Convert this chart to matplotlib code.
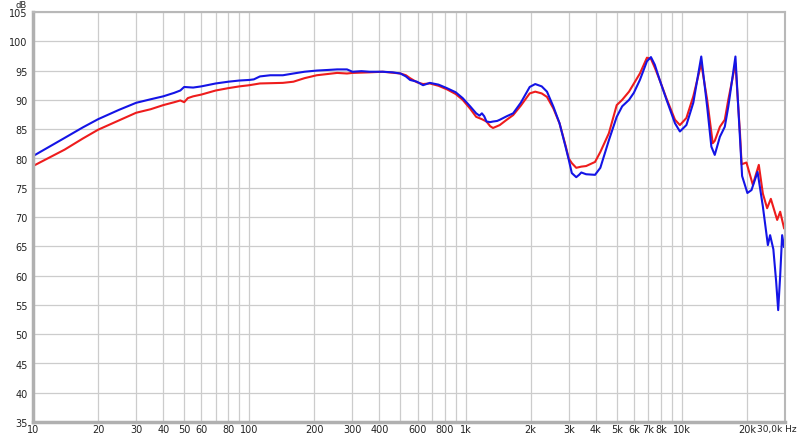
import matplotlib
matplotlib.use('Agg')
import matplotlib.pyplot as plt
from matplotlib.ticker import FixedLocator, NullFormatter

blue_freq = [10, 14, 17, 20, 25, 30, 35, 40, 45, 48, 50, 55, 60, 70, 80, 90, 100, 105,
             112, 125, 143, 160, 180, 205, 230, 255, 283, 300, 330, 360, 414, 460, 500,
             530, 554, 596, 636, 684, 750, 820, 900, 970, 1050, 1120, 1160, 1190, 1220,
             1250, 1300, 1340, 1400, 1440, 1550, 1660, 1800, 1980, 2100, 2250, 2380, 2550,
             2720, 2900, 3000, 3100, 3250, 3350, 3430, 3610, 3970, 4200, 4600, 5000, 5300,
             5700, 6000, 6400, 6900, 7200, 7500, 7900, 8500, 9300, 9800, 10500, 11300,
             12300, 13100, 13700, 14200, 15000, 15800, 16400, 17700, 18600, 19000, 20100,
             21000, 22400, 23700, 25000, 25600, 26500, 27300, 27900, 28500, 29100, 29700]
blue_db = [80.4, 83.5, 85.3, 86.7, 88.3, 89.5, 90.1, 90.6, 91.2, 91.6, 92.2, 92.1, 92.3,
           92.8, 93.1, 93.3, 93.4, 93.5, 94.0, 94.2, 94.2, 94.5, 94.8, 95.0, 95.1, 95.2,
           95.2, 94.8, 94.9, 94.8, 94.8, 94.7, 94.5, 94.0, 93.4, 93.1, 92.5, 92.9, 92.6,
           92.0, 91.3, 90.3, 88.9, 87.7, 87.3, 87.7, 87.2, 86.3, 86.2, 86.3, 86.4, 86.6,
           87.2, 87.7, 89.5, 92.2, 92.7, 92.3, 91.4, 88.8, 86.0, 82.0, 79.8, 77.5, 76.8,
           77.2, 77.6, 77.3, 77.2, 78.4, 83.1, 87.1, 88.9, 90.0, 91.2, 93.4, 96.6, 97.3,
           96.0, 93.4, 90.0, 86.0, 84.6, 85.7, 89.5, 97.4, 88.8, 82.0, 80.6, 83.7, 85.4,
           88.8, 97.4, 83.1, 77.0, 74.1, 74.6, 77.7, 71.8, 65.2, 66.9, 64.5, 59.0, 54.1,
           60.0, 66.9, 64.9]

red_freq = [10, 14, 17, 20, 25, 30, 35, 40, 45, 48, 50, 52, 55, 60, 70, 80, 90, 100, 112,
            143, 160, 180, 205, 255, 283, 300, 360, 414, 500, 530, 554, 596, 636, 684, 750,
            820, 900, 970, 1050, 1120, 1190, 1250, 1300, 1340, 1400, 1440, 1550, 1660, 1800,
            1980, 2100, 2250, 2380, 2550, 2720, 2900, 3000, 3100, 3250, 3430, 3610, 3970,
            4200, 4600, 5000, 5300, 5700, 6400, 6900, 7200, 7500, 7900, 8500, 9300, 9800,
            10500, 11300, 12300, 13100, 13900, 14200, 15000, 15800, 16400, 17700, 18600,
            18900, 19900, 21300, 22700, 23700, 24800, 25800, 27600, 28500, 29700]
red_db = [78.7, 81.5, 83.4, 84.9, 86.5, 87.8, 88.4, 89.1, 89.6, 89.9, 89.6, 90.3, 90.6,
          90.9, 91.6, 92.0, 92.3, 92.5, 92.8, 92.9, 93.1, 93.7, 94.2, 94.6, 94.5, 94.6,
          94.7, 94.8, 94.5, 94.2, 93.7, 93.0, 92.7, 92.8, 92.4, 91.8, 91.0, 90.0, 88.5,
          87.1, 86.7, 86.3, 85.5, 85.2, 85.5, 85.7, 86.6, 87.4, 89.0, 91.1, 91.4, 91.1,
          90.5, 88.5, 86.0, 82.2, 80.0, 79.2, 78.4, 78.6, 78.7, 79.4, 81.1, 84.3, 89.1,
          90.0, 91.4, 94.5, 97.2, 97.0, 95.5, 93.4, 90.2, 86.6, 85.7, 86.9, 90.6, 96.2,
          90.0, 82.6, 83.0, 85.4, 86.6, 90.0, 96.2, 84.0, 79.0, 79.3, 75.5, 78.9, 74.0,
          71.5, 73.1, 69.5, 70.9, 68.1]

grid_freqs = [10, 20, 30, 40, 50, 60, 70, 80, 90, 100, 200, 300, 400, 500, 600, 700, 800,
              900, 1000, 2000, 3000, 4000, 5000, 6000, 7000, 8000, 9000, 10000, 20000]
label_freqs = [10, 20, 30, 40, 50, 60, 80, 100, 200, 300, 400, 600, 800, 1000, 2000, 3000,
               4000, 5000, 6000, 7000, 8000, 10000, 20000]
label_texts = ['10', '20', '30', '40', '50', '60', '80', '100', '200', '300', '400', '600',
               '800', '1k', '2k', '3k', '4k', '5k', '6k', '7k', '8k', '10k', '20k']
db_ticks = list(range(35, 106, 5))

fig = plt.figure(figsize=(8, 4.37), dpi=100)
ax = fig.add_axes([33 / 800, 15 / 437, 752 / 800, 410 / 437])
ax.set_xscale('log')
ax.set_xlim(10, 30000)
ax.set_ylim(35, 105)

ax.xaxis.set_major_locator(FixedLocator(grid_freqs))
ax.xaxis.set_minor_locator(FixedLocator([]))
ax.xaxis.set_major_formatter(NullFormatter())
ax.set_yticks(db_ticks)
ax.yaxis.set_major_formatter(NullFormatter())
ax.grid(True, color='#cccccc', lw=0.9)
ax.set_axisbelow(True)
ax.tick_params(length=0)

txt = dict(fontsize=7, color='#222222', textcoords='offset points')
for v in db_ticks:
    ax.annotate(str(v), xy=(0, v), xycoords=('axes fraction', 'data'), xytext=(-4, -1.5),
                ha='right', va='center', **txt)
for f, t in zip(label_freqs, label_texts):
    ax.annotate(t, xy=(f, 0), xycoords=('data', 'axes fraction'), xytext=(0, -2.5),
                ha='center', va='top', **txt)
fig.text(797 / 800, 1 - 425 / 437, '30,0k Hz', ha='right', va='top', fontsize=6.5, color='#222222')
fig.text(27 / 800, 436 / 437, 'dB', ha='right', va='top', fontsize=6, color='#222222')

for side in ['left', 'bottom']:
    ax.spines[side].set_color('#b0b0b0')
    ax.spines[side].set_linewidth(2.5)
for side in ['top', 'right']:
    ax.spines[side].set_color('#b8b8b8')
    ax.spines[side].set_linewidth(1.5)

ax.plot(red_freq, red_db, color='#ee1c1c', lw=1.5)
ax.plot(blue_freq, blue_db, color='#1414e6', lw=1.5)

plt.savefig('out.png', dpi=100)
